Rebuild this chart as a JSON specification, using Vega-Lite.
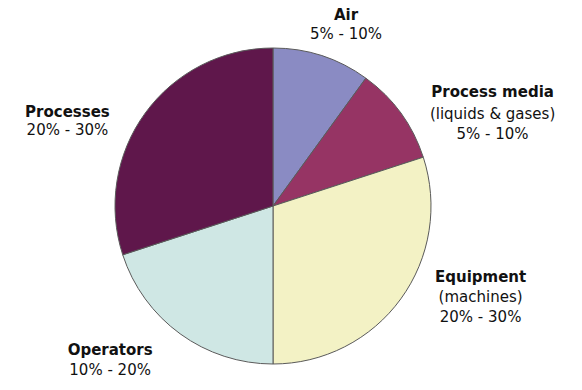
{
  "$schema": "https://vega.github.io/schema/vega-lite/v6.json",
  "width": 546,
  "height": 368,
  "autosize": {"type": "none"},
  "padding": {"left": 0, "top": 22, "right": 36, "bottom": 0},
  "background": "white",
  "config": {"view": {"stroke": null}, "text": {"font": "DejaVu Sans", "fontSize": 15, "color": "#111111", "align": "center", "baseline": "alphabetic", "lineHeight": 20}},
  "data": {"values": [
    {"cat": "Air", "order": 1, "value": 10, "name": "Air", "detail": ["5% - 10%"]},
    {"cat": "Process media", "order": 2, "value": 10, "name": "Process media", "detail": ["(liquids & gases)", "5% - 10%"]},
    {"cat": "Equipment", "order": 3, "value": 30, "name": "Equipment", "detail": ["(machines)", "20% - 30%"]},
    {"cat": "Operators", "order": 4, "value": 20, "name": "Operators", "detail": ["10% - 20%"]},
    {"cat": "Processes", "order": 5, "value": 30, "name": "Processes", "detail": ["20% - 30%"]}
  ]},
  "transform": [
    {"window": [{"op": "sum", "field": "value", "as": "cum"}], "sort": [{"field": "order"}]},
    {"calculate": "datum.cum - datum.value", "as": "start"},
    {"calculate": "datum.cum - datum.value / 2", "as": "mid"}
  ],
  "layer": [
    {
      "mark": {"type": "arc", "outerRadius": 158, "stroke": "#5a5a5a", "strokeWidth": 1},
      "encoding": {
        "theta": {"field": "start", "type": "quantitative", "scale": {"domain": [0, 100]}},
        "theta2": {"field": "cum"},
        "color": {"field": "cat", "type": "nominal", "legend": null,
          "scale": {"domain": ["Air", "Process media", "Equipment", "Operators", "Processes"],
                    "range": ["#8a8bc3", "#963464", "#f3f2c5", "#cfe7e4", "#5f174b"]}}
      }
    },
    {"transform": [{"filter": "datum.cat === 'Air'"}],
     "mark": {"type": "text", "radius": 175, "dx": 19, "dy": -20, "fontWeight": "bold"},
     "encoding": {"theta": {"field": "mid", "type": "quantitative", "scale": {"domain": [0, 100]}}, "text": {"field": "name"}}},
    {"transform": [{"filter": "datum.cat === 'Air'"}],
     "mark": {"type": "text", "radius": 175, "dx": 19, "dy": -1},
     "encoding": {"theta": {"field": "mid", "type": "quantitative", "scale": {"domain": [0, 100]}}, "text": {"field": "detail"}}},
    {"transform": [{"filter": "datum.cat === 'Process media'"}],
     "mark": {"type": "text", "radius": 175, "dx": 78, "dy": -6, "fontWeight": "bold"},
     "encoding": {"theta": {"field": "mid", "type": "quantitative", "scale": {"domain": [0, 100]}}, "text": {"field": "name"}}},
    {"transform": [{"filter": "datum.cat === 'Process media'"}],
     "mark": {"type": "text", "radius": 175, "dx": 78, "dy": 16},
     "encoding": {"theta": {"field": "mid", "type": "quantitative", "scale": {"domain": [0, 100]}}, "text": {"field": "detail"}}},
    {"transform": [{"filter": "datum.cat === 'Equipment'"}],
     "mark": {"type": "text", "radius": 175, "dx": 66, "dy": -27, "fontWeight": "bold"},
     "encoding": {"theta": {"field": "mid", "type": "quantitative", "scale": {"domain": [0, 100]}}, "text": {"field": "name"}}},
    {"transform": [{"filter": "datum.cat === 'Equipment'"}],
     "mark": {"type": "text", "radius": 175, "dx": 66, "dy": -7},
     "encoding": {"theta": {"field": "mid", "type": "quantitative", "scale": {"domain": [0, 100]}}, "text": {"field": "detail"}}},
    {"transform": [{"filter": "datum.cat === 'Operators'"}],
     "mark": {"type": "text", "radius": 175, "dx": -60, "dy": 7, "fontWeight": "bold"},
     "encoding": {"theta": {"field": "mid", "type": "quantitative", "scale": {"domain": [0, 100]}}, "text": {"field": "name"}}},
    {"transform": [{"filter": "datum.cat === 'Operators'"}],
     "mark": {"type": "text", "radius": 175, "dx": -60, "dy": 27},
     "encoding": {"theta": {"field": "mid", "type": "quantitative", "scale": {"domain": [0, 100]}}, "text": {"field": "detail"}}},
    {"transform": [{"filter": "datum.cat === 'Processes'"}],
     "mark": {"type": "text", "radius": 175, "dx": -64, "dy": 14, "fontWeight": "bold"},
     "encoding": {"theta": {"field": "mid", "type": "quantitative", "scale": {"domain": [0, 100]}}, "text": {"field": "name"}}},
    {"transform": [{"filter": "datum.cat === 'Processes'"}],
     "mark": {"type": "text", "radius": 175, "dx": -64, "dy": 32},
     "encoding": {"theta": {"field": "mid", "type": "quantitative", "scale": {"domain": [0, 100]}}, "text": {"field": "detail"}}}
  ]
}
